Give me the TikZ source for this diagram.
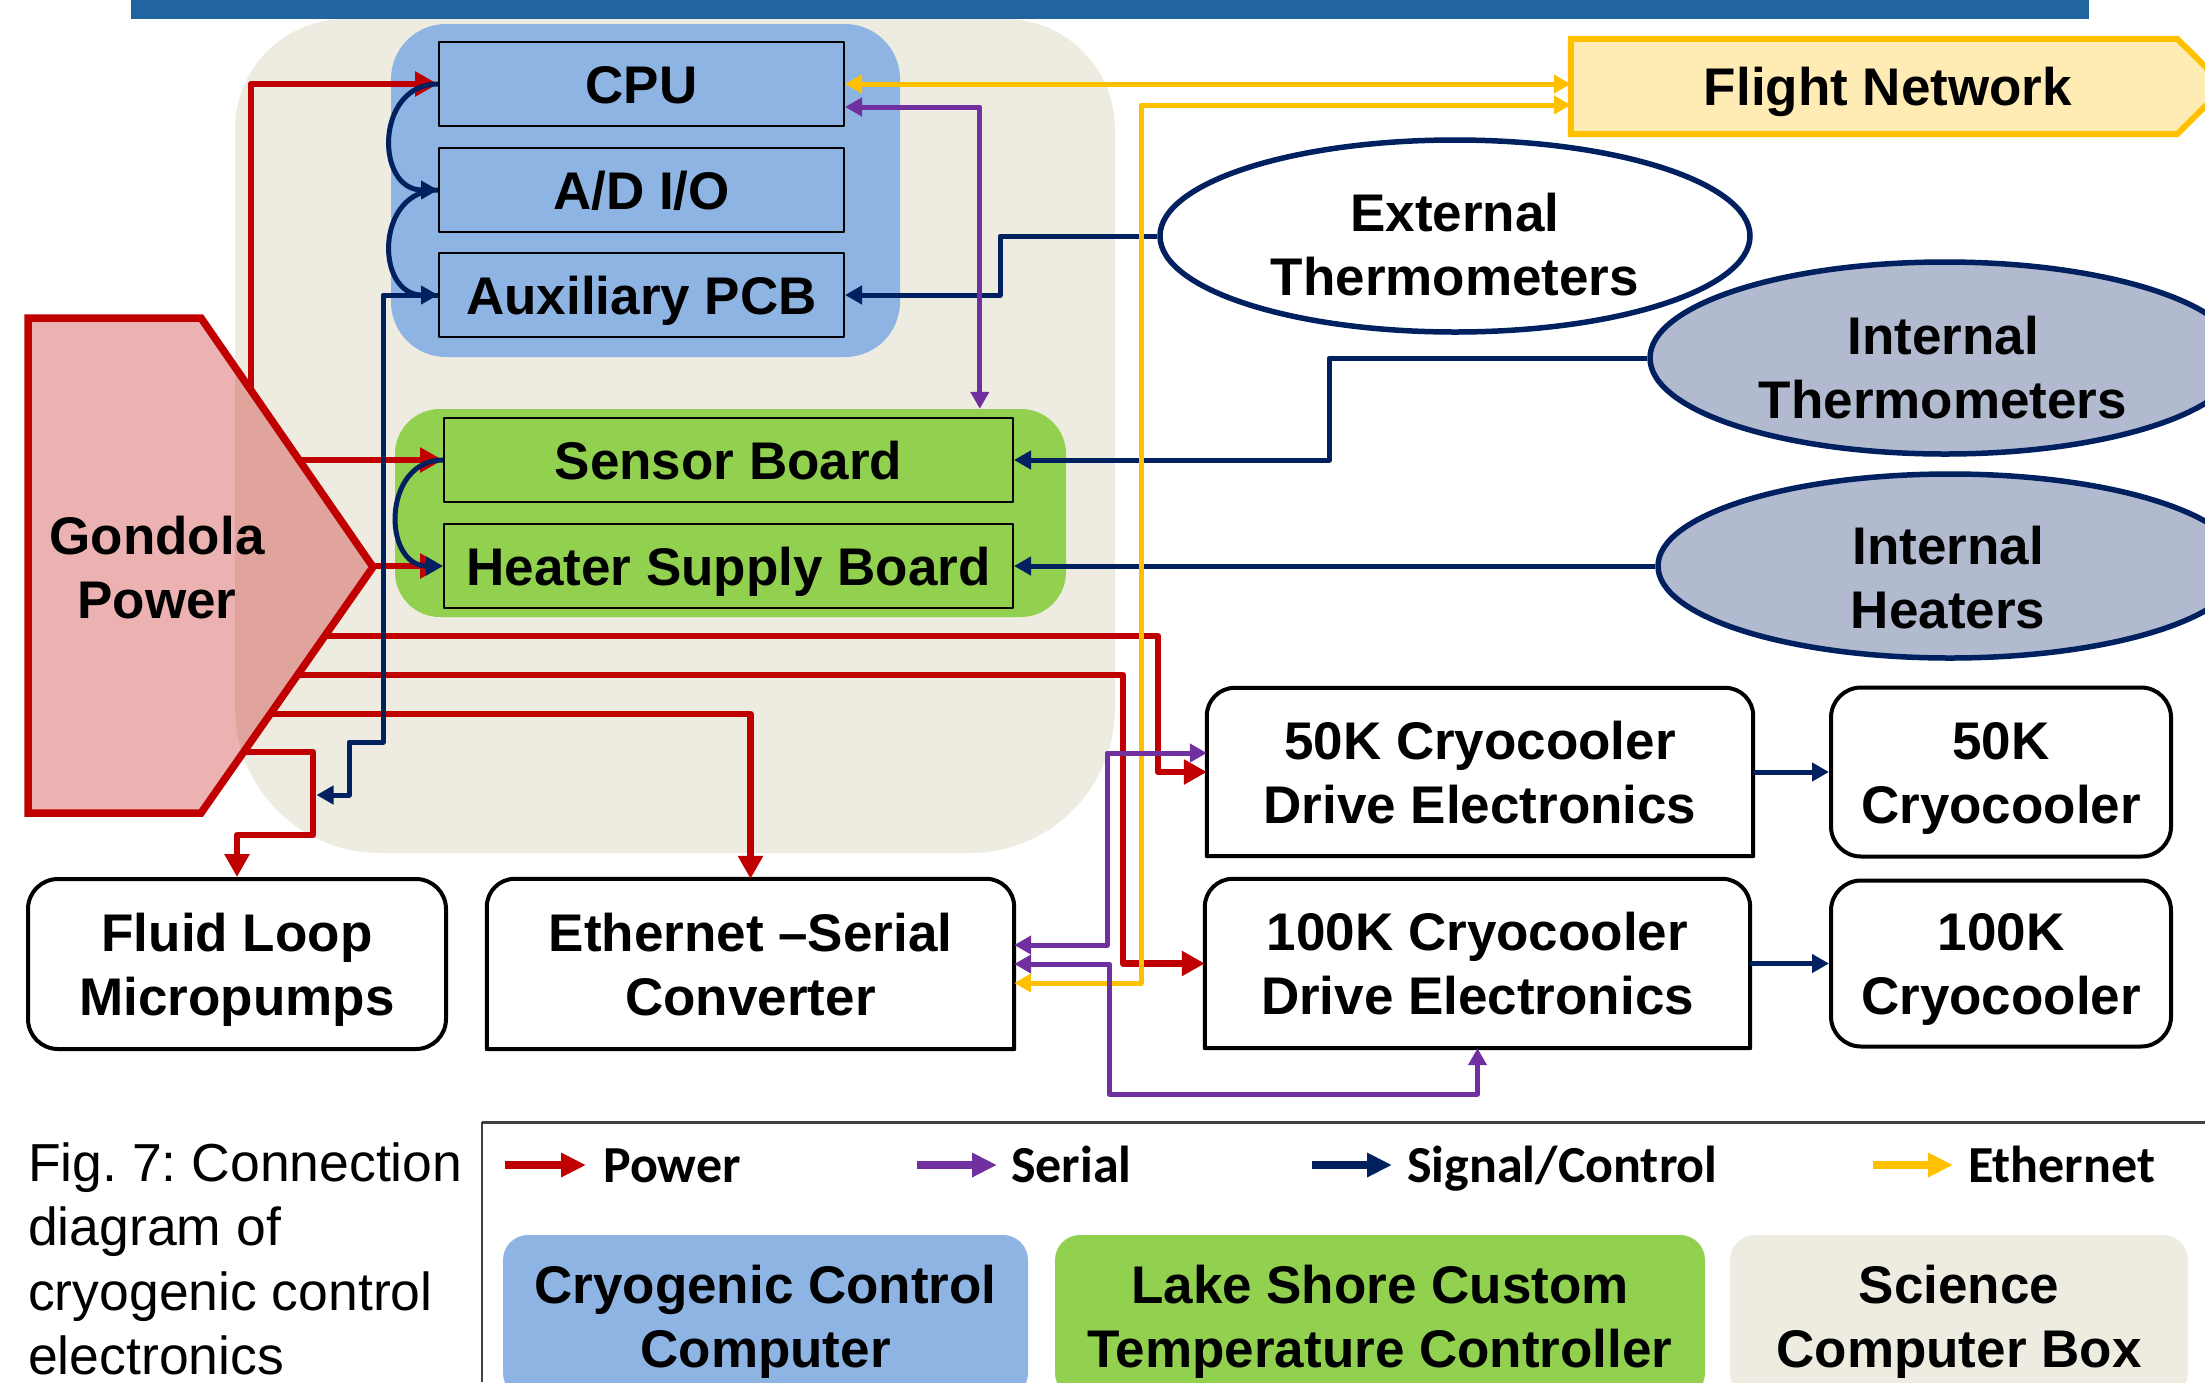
\documentclass[tikz,border=0pt]{standalone}
\usepackage{fontspec}
\setmainfont{Liberation Sans}
\newfontfamily\calib{Carlito}
\usetikzlibrary{arrows.meta,shapes.geometric,calc}
\definecolor{barblue}{RGB}{33,101,160}
\definecolor{beige}{RGB}{238,236,225}
\definecolor{cccblue}{RGB}{142,180,227}
\definecolor{lsgreen}{RGB}{146,208,80}
\definecolor{pred}{RGB}{192,0,0}
\definecolor{pnavy}{RGB}{0,32,96}
\definecolor{ppurple}{RGB}{112,48,160}
\definecolor{pyellow}{RGB}{255,192,0}
\definecolor{flightfill}{RGB}{255,236,180}
\definecolor{ellfill}{RGB}{177,186,207}
\newcommand{\mystrut}{\rule[-11pt]{0pt}{60pt}}
\newcommand{\topround}[1]{\draw[boxline] (#1.west) [rounded corners=28pt] -- (#1.north west) -- (#1.north east) -- (#1.east) [sharp corners] -- (#1.south east) -- (#1.south west) -- cycle;}
\tikzset{
 lbl/.style={font=\bfseries\fontsize{53}{64}\selectfont, align=center, inner sep=0pt, text=black},
 sub/.style={lbl, draw=black, line width=2pt, minimum width=405pt, minimum height=84pt, fill=cccblue},
 lsub/.style={lbl, draw=black, line width=2pt, minimum width=569pt, minimum height=84pt, fill=lsgreen},
 ell/.style={ellipse, draw=pnavy, line width=5.5pt, minimum width=590pt, minimum height=192pt, inner sep=0pt},
 bbox/.style={lbl, minimum height=170pt},
 boxline/.style={draw=black, line width=4pt, line join=round},
 pw/.style={draw=pred, line width=6.5pt, >={Triangle[length=23pt,width=24pt]}, ->},
 sg/.style={draw=pnavy, line width=5pt, >={Triangle[length=17pt,width=18pt]}, ->},
 sr/.style={draw=ppurple, line width=5pt, >={Triangle[length=17pt,width=18pt]}, <->},
 et/.style={draw=pyellow, line width=5pt, >={Triangle[length=17pt,width=18pt]}, <->},
 legtxt/.style={font=\calib\bfseries\fontsize{52}{62}\selectfont, inner sep=0pt},
 legarr/.style={line width=8pt, -{Triangle[length=25pt,width=23pt]}},
 legbox/.style={lbl, rounded corners=25pt, minimum height=163pt},
}
\frenchspacing
\begin{document}
\begin{tikzpicture}[x=1pt,y=-1pt,line join=round]
\useasboundingbox (0,0) rectangle (2205,1382);
\clip (0,0) rectangle (2205,1382);
% top bar
\fill[barblue] (131,0) rectangle (2089,19);
% science computer box background
\fill[beige] (235,400) [rounded corners=110pt] -- (235,19) -- (1115,19) -- (1115,400) [rounded corners=145pt] -- (1115,853) -- (235,853) -- cycle;
% groups
\node[fill=cccblue, rounded corners=55pt, minimum width=509pt, minimum height=333pt, inner sep=0pt] (cccgrp) at (645.5,190.5) {};
\node[fill=lsgreen, rounded corners=45pt, minimum width=671pt, minimum height=208pt, inner sep=0pt] (lsgrp) at (730.5,513) {};
% sub boxes
\node[sub] (cpu) at (641.5,84) {\mystrut CPU};
\node[sub] (ad) at (641.5,190) {\mystrut A/D I/O};
\node[sub] (aux) at (641.5,295) {\mystrut Auxiliary PCB};
\node[lsub] (sensor) at (728.5,460) {\mystrut Sensor Board};
\node[lsub] (heater) at (728.5,566) {\mystrut Heater Supply Board};
% gondola power
\draw[draw=pred, line width=7.5pt, fill=pred, fill opacity=0.3, line join=miter] (28,318) -- (201,318) -- (373,567) -- (201,813) -- (28,813) -- cycle;
\node[lbl] (gondola) at (157,567) {\mystrut Gondola\\\mystrut Power};
% ellipses
\node[ell, fill=white] (ext) at (1455,236) {};
\node[lbl] (extL) at (1455,244) {\mystrut External\\\mystrut Thermometers};
\node[ell, fill=ellfill] (intT) at (1945,358) {};
\node[lbl] (intTL) at (1943,367) {\mystrut Internal\\\mystrut Thermometers};
\node[ell, fill=ellfill, minimum width=584pt, minimum height=184pt] (intH) at (1950,566) {};
\node[lbl] (intHL) at (1948,577) {\mystrut Internal\\\mystrut Heaters};
% flight network
\node[minimum width=606pt, minimum height=95pt, inner sep=0pt] (flight) at (1874,86.5) {};
\draw[fill=flightfill, draw=pyellow, line width=6pt, line join=miter] (flight.north west) -- (flight.north east) -- ++(48,47.5) -- (flight.south east) -- (flight.south west) -- cycle;
\node[lbl] (flightL) at (1888,86.5) {\mystrut Flight Network};
% bottom boxes
\node[bbox, boxline, rounded corners=30pt, minimum width=418pt] (fluid) at (237,964) {\mystrut Fluid Loop\\\mystrut Micropumps};
\node[bbox, minimum width=527pt] (eth) at (750.5,964) {\mystrut Ethernet –Serial\\\mystrut Converter};
\topround{eth}
\node[bbox, minimum width=546pt, minimum height=168pt] (d50) at (1480,772) {\mystrut 50K Cryocooler\\\mystrut Drive Electronics};
\topround{d50}
\node[bbox, minimum width=545pt, minimum height=169pt] (d100) at (1477.5,963.5) {\mystrut 100K Cryocooler\\\mystrut Drive Electronics};
\topround{d100}
\node[bbox, boxline, rounded corners=30pt, minimum width=340pt, minimum height=169pt] (c50) at (2001,772) {\mystrut 50K\\\mystrut Cryocooler};
\node[bbox, boxline, rounded corners=30pt, minimum width=340pt, minimum height=166pt] (c100) at (2001,963.5) {\mystrut 100K\\\mystrut Cryocooler};
% power connectors
\coordinate (gA) at (251,390.4);
\coordinate (gB) at (299,460);
\coordinate (gC) at (373,566);
\coordinate (gD) at (325,636);
\coordinate (gE) at (297.5,675);
\coordinate (gF) at (270,714);
\coordinate (gG) at (243.6,752);
\draw[pw] (gA) |- (cpu.west);
\draw[pw] (gB) -- (sensor.west);
\draw[pw] (gC) -- (heater.west);
\draw[pw] (gD) -- ++(833,0) |- (d50.west);
\draw[pw] (gE) -- ++(825.5,0) |- (d100.west);
\draw[pw] (gF) -| (eth.north);
\draw[pw] (gG) -- ++(69.4,0) -- ++(0,83) -| (fluid.north);
% signal / control connectors
\draw[sg] (cpu.west) .. controls +(-63,0) and +(-63,0) .. (ad.west);
\draw[sg] (ad.west) .. controls +(-63,0) and +(-63,0) .. (aux.west);
\draw[sg] (sensor.west) .. controls +(-61,0) and +(-61,0) .. (heater.west);
\draw[sg] (ext.west) -- ++(-157,0) |- (aux.east);
\draw[sg] (intT.west) -- ++(-318,0) |- (sensor.east);
\draw[sg] (intH.west) -- (heater.east);
\draw[sg] (d50.east) -- (c50.west);
\draw[sg] (d100.east) -- (c100.west);
\coordinate (pumpsw) at (316.5,795);
\draw[sg] (aux.west) -| (383,742) -- (349,742) |- (pumpsw);
% ethernet connectors
\draw[et] (cpu.east) -- (cpu.east -| flight.west);
\draw[et] ([yshift=-19pt]eth.east) -- ++(127,0) |- ([yshift=-18.5pt]flight.west);
% serial connectors
\draw[sr] ([yshift=-23pt]cpu.east) -| ([xshift=585pt]lsgrp.north west);
\draw[sr] ([yshift=19pt]eth.east) -- ++(93,0) |- ([yshift=19pt]d50.west);
\draw[sr] (eth.east) -- ++(95,0) -- ++(0,130) -| (d100.south);
% legend frame
\draw[black!75, line width=3pt] (482,1122) -- (2205,1122);
\draw[black!75, line width=1.5pt] (482,1122) -- (482,1382);
\node[font=\fontsize{53.5}{64.5}\selectfont, align=left, anchor=north west, inner sep=0pt] (caption) at (28,1132) {\mystrut Fig. 7: Connection\\\mystrut diagram of\\\mystrut cryogenic control\\\mystrut electronics};
% legend arrows
\node[legtxt, anchor=base west] (lgP) at (603,1182) {Power};
\draw[legarr, pred] ([xshift=-98pt,yshift=17pt]lgP.base west) -- ([xshift=-17pt,yshift=17pt]lgP.base west);
\node[legtxt, anchor=base west] (lgS) at (1011,1182) {Serial};
\draw[legarr, ppurple] ([xshift=-94pt,yshift=17pt]lgS.base west) -- ([xshift=-14pt,yshift=17pt]lgS.base west);
\node[legtxt, anchor=base west] (lgC) at (1407,1182) {Signal/Control};
\draw[legarr, pnavy] ([xshift=-95pt,yshift=17pt]lgC.base west) -- ([xshift=-15pt,yshift=17pt]lgC.base west);
\node[legtxt, anchor=base west] (lgE) at (1968,1182) {Ethernet};
\draw[legarr, pyellow] ([xshift=-95pt,yshift=17pt]lgE.base west) -- ([xshift=-15pt,yshift=17pt]lgE.base west);
% legend boxes
\node[legbox, fill=cccblue, minimum width=525pt] (lgCCC) at (765.5,1316.5) {\mystrut Cryogenic Control\\\mystrut Computer};
\node[legbox, fill=lsgreen, minimum width=650pt] (lgLS) at (1380,1316.5) {\mystrut Lake Shore Custom\\\mystrut Temperature Controller};
\node[legbox, fill=beige, minimum width=458pt] (lgSCB) at (1959,1316.5) {\mystrut Science\\\mystrut Computer Box};
\end{tikzpicture}
\end{document}
